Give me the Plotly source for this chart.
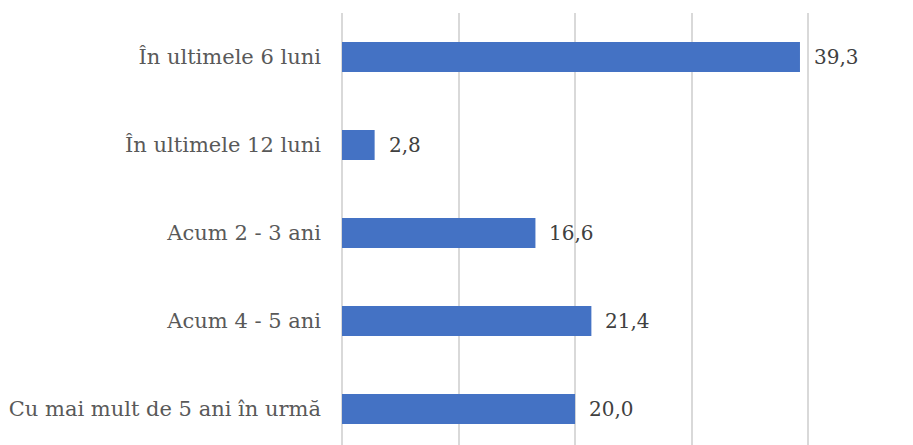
import plotly.graph_objects as go

categories = ["În ultimele 6 luni", "În ultimele 12 luni", "Acum 2 - 3 ani",
              "Acum 4 - 5 ani", "Cu mai mult de 5 ani în urmă"]
values = [39.3, 2.8, 16.6, 21.4, 20.0]
value_labels = [f"{v:.1f}".replace(".", ",") for v in values]

FONT = "DejaVu Serif"

fig = go.Figure(go.Bar(
    x=values, y=categories, orientation="h",
    marker=dict(color="#4472C4", line=dict(width=0)),
    hoverinfo="skip",
))

for v, lab, c in zip(values, value_labels, categories):
    fig.add_annotation(x=v, y=c, text=lab, showarrow=False, xanchor="left",
                       xshift=12, font=dict(family=FONT, size=20, color="#404040"))

fig.update_layout(
    width=913, height=445,
    margin=dict(l=334, r=8, t=5, b=8),
    paper_bgcolor="white", plot_bgcolor="white",
    bargap=0.66, showlegend=False,
    xaxis=dict(range=[0, 49], dtick=10, tick0=0, showticklabels=False,
               showgrid=True, gridcolor="#d9d9d9", gridwidth=1.5,
               zeroline=True, zerolinecolor="#d9d9d9", zerolinewidth=1.5,
               showline=False, fixedrange=True, automargin=False),
    yaxis=dict(categoryorder="array", categoryarray=categories,
               range=[4.41, -0.5], showgrid=False, zeroline=False,
               ticklabelstandoff=20, automargin=False,
               tickfont=dict(family=FONT, size=21, color="#595959")),
)

fig.write_html("out.html")
